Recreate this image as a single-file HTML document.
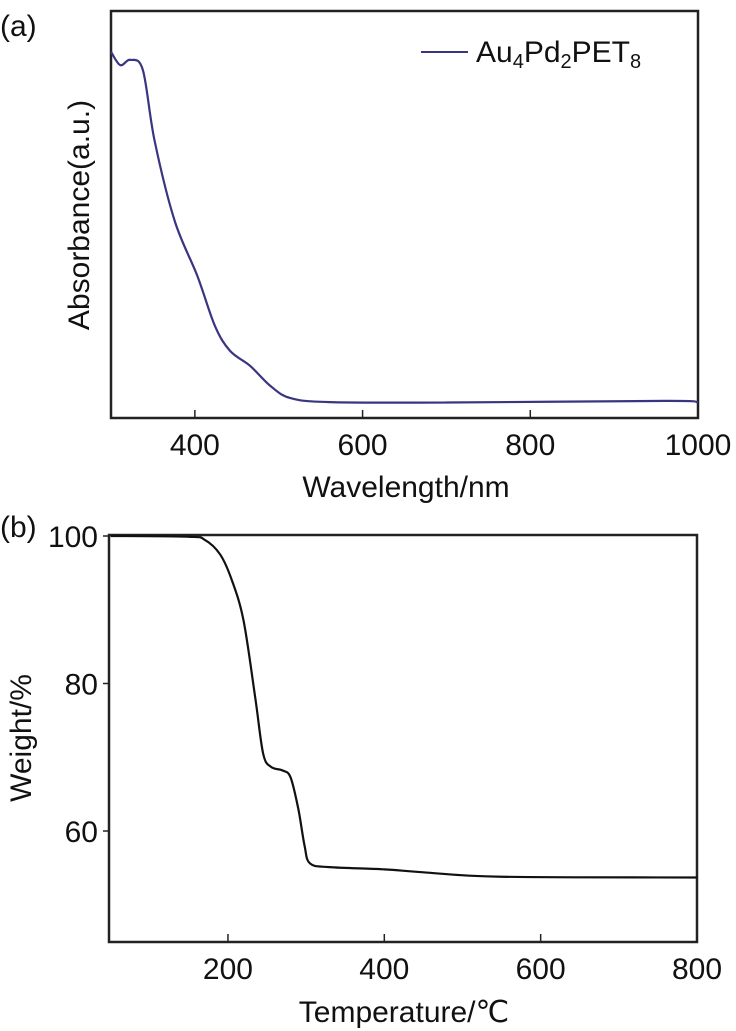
<!DOCTYPE html>
<html><head><meta charset="utf-8"><style>
html,body{margin:0;padding:0;background:#fff;}
svg{display:block;font-family:"Liberation Sans",sans-serif;}
</style></head><body>
<svg id="chart" width="736" height="1031" viewBox="0 0 736 1031" xmlns="http://www.w3.org/2000/svg"></svg>
<script>
// Panel (a) data
const uvWavelength = [300,311,323,338,352,376,403,424,442,466,490,514,561,700,960,1000];
const uvAbsorbance = [0.90,0.867,0.88,0.855,0.681,0.484,0.349,0.226,0.165,0.128,0.079,0.049,0.039,0.038,0.042,0.039];
const uvTicks = [400,600,800,1000];
// Panel (b) data
const tgaTemp = [50,150,170,190,205,220,235,245,255,270,280,290,298,305,330,400,450,550,800];
const tgaWeight = [100,99.9,99.5,97.5,94,88.5,78,70.5,68.7,68.2,67.3,63,58,55.6,55.1,54.8,54.4,53.8,53.7];
const tgaXTicks = [200,400,600,800];
const tgaYTicks = [60,80,100];

const svg = document.getElementById('chart');
const NS = 'http://www.w3.org/2000/svg';
function mk(tag, attrs, parent){
  const e = document.createElementNS(NS, tag);
  for (const k in attrs) e.setAttribute(k, attrs[k]);
  (parent||svg).appendChild(e);
  return e;
}
function smoothPath(pts){
  let d = 'M' + pts[0][0] + ',' + pts[0][1];
  for (let i=0;i<pts.length-1;i++){
    const p0=pts[Math.max(0,i-1)], p1=pts[i], p2=pts[i+1], p3=pts[Math.min(pts.length-1,i+2)];
    const c1x=p1[0]+(p2[0]-p0[0])/6, c1y=p1[1]+(p2[1]-p0[1])/6;
    const c2x=p2[0]-(p3[0]-p1[0])/6, c2y=p2[1]-(p3[1]-p1[1])/6;
    d += ' C'+c1x+','+c1y+' '+c2x+','+c2y+' '+p2[0]+','+p2[1];
  }
  return d;
}
const FS = 30;

// ---- Panel (a)
const ax = v => 111 + (v-300)*(698-111)/700;
const ay = v => 418 - v*407;
let t = mk('text',{x:0,y:36,'font-size':FS,fill:'#111'}); t.textContent='(a)';


let r = mk('rect',{x:111,y:11,width:587,height:407,fill:'none',stroke:'#222','stroke-width':2.5});


uvTicks.forEach(v=>{
  const l = mk('line',{x1:ax(v),x2:ax(v),y1:418,y2:410,stroke:'#222','stroke-width':1.5});
  
  
  const tx = mk('text',{x:ax(v),y:455,'font-size':FS,'text-anchor':'middle',fill:'#111'});
  tx.textContent = v;
  
  
});
t = mk('text',{x:406,y:497,'font-size':FS,'text-anchor':'middle',fill:'#111'}); t.textContent='Wavelength/nm';


t = mk('text',{x:0,y:0,'font-size':FS,'text-anchor':'middle',fill:'#111',transform:'translate(89,215) rotate(-90)'}); t.textContent='Absorbance(a.u.)';


let p = mk('path',{d:smoothPath(uvWavelength.map((w,i)=>[ax(w),ay(uvAbsorbance[i])])),fill:'none',stroke:'#3a3580','stroke-width':2.2});


let l = mk('line',{x1:421,x2:468,y1:52,y2:52,stroke:'#3a3580','stroke-width':2});


t = mk('text',{x:476,y:62,'font-size':FS,fill:'#111'});
t.innerHTML = 'Au<tspan font-size="20" dy="6">4</tspan><tspan dy="-6">Pd</tspan><tspan font-size="20" dy="6">2</tspan><tspan dy="-6">PET</tspan><tspan font-size="20" dy="6">8</tspan>';



// ---- Panel (b)
const bx = v => 110.7 + (v-50)*(697-110.7)/750;
const by = v => 536 + (100-v)*7.375;
t = mk('text',{x:0,y:537,'font-size':FS,fill:'#111'}); t.textContent='(b)';


r = mk('rect',{x:109,y:535,width:588,height:407,fill:'none',stroke:'#222','stroke-width':2.5});


tgaXTicks.forEach(v=>{
  const l2 = mk('line',{x1:bx(v),x2:bx(v),y1:942,y2:934,stroke:'#222','stroke-width':1.5});
  
  
  const tx = mk('text',{x:bx(v),y:979,'font-size':FS,'text-anchor':'middle',fill:'#111'});
  tx.textContent = v;
  
  
});
tgaYTicks.forEach(v=>{
  const l2 = mk('line',{x1:103,x2:109,y1:by(v),y2:by(v),stroke:'#222','stroke-width':1.5});
  
  
  const tx = mk('text',{x:98,y:by(v)+11,'font-size':FS,'text-anchor':'end',fill:'#111'});
  tx.textContent = v;
  
  
});
t = mk('text',{x:404,y:1022,'font-size':FS,'text-anchor':'middle',fill:'#111'}); t.textContent='Temperature/℃';


t = mk('text',{x:0,y:0,'font-size':FS,'text-anchor':'middle',fill:'#111',transform:'translate(31,738) rotate(-90)'}); t.textContent='Weight/%';


p = mk('path',{d:smoothPath(tgaTemp.map((x,i)=>[bx(x),by(tgaWeight[i])])),fill:'none',stroke:'#111','stroke-width':2.2});


</script>
</body></html>
